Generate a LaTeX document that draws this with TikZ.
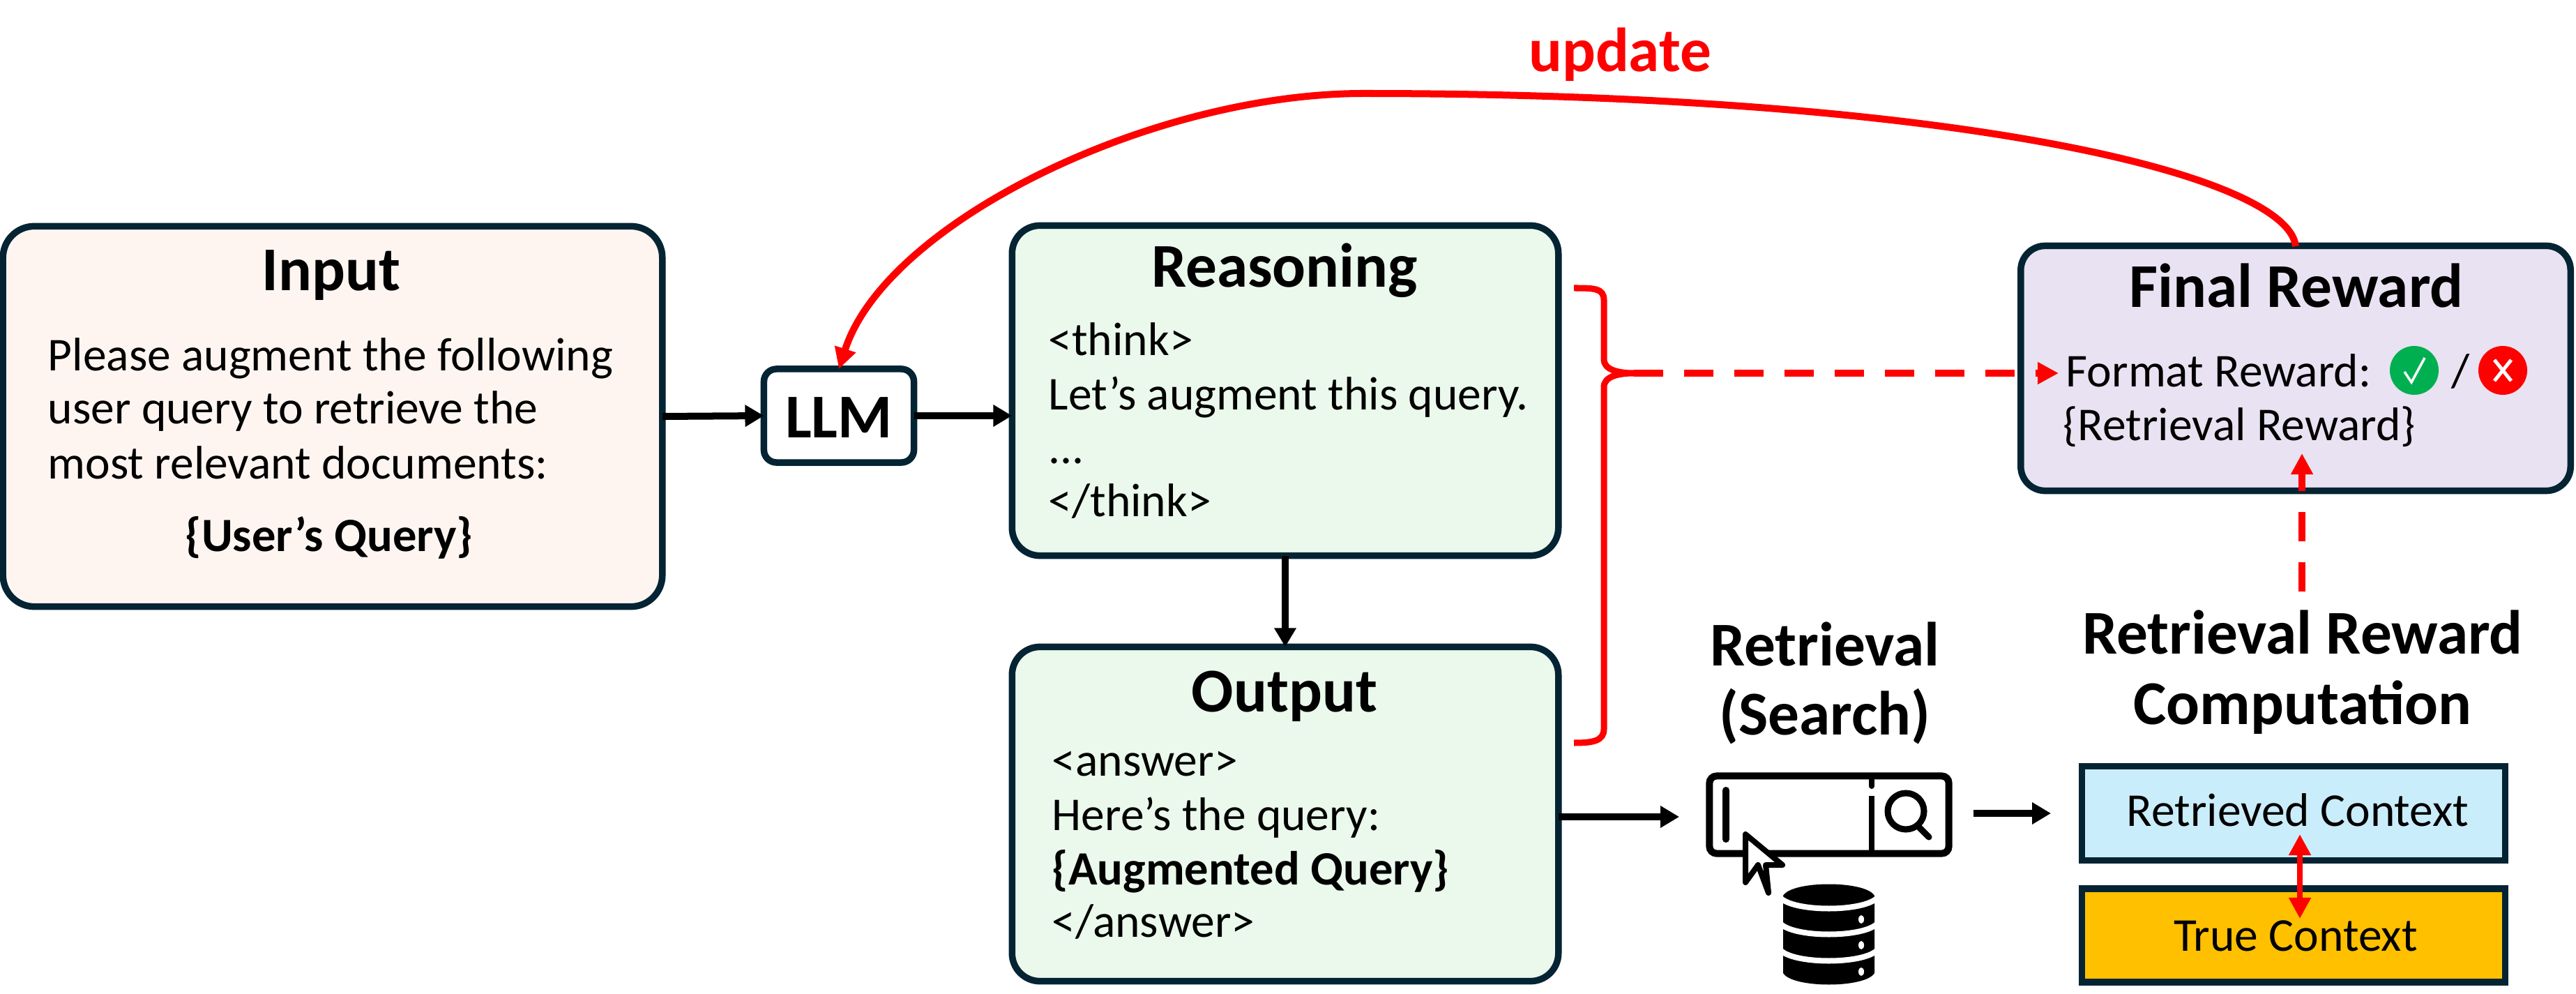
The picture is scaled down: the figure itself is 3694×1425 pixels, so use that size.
\documentclass[tikz,border=0pt]{standalone}
\usepackage{fontspec}
\setmainfont{Carlito}
\usepackage{xcolor}
\usepackage{tikz}
\usetikzlibrary{arrows.meta,calc,positioning}
\definecolor{boxline}{HTML}{042433}
\definecolor{inputfill}{HTML}{FEF5F1}
\definecolor{greenfill}{HTML}{EAF9EC}
\definecolor{rewardfill}{HTML}{E9E2F2}
\definecolor{retrfill}{HTML}{CAEDFB}
\definecolor{truefill}{HTML}{FFC000}
\definecolor{okgreen}{HTML}{00B050}
\tikzset{
  bx/.style={draw=boxline,line width=0.095cm,inner sep=0pt,outer sep=0pt},
  headtxt/.style={font=\fontsize{25.4}{27}\selectfont\bfseries,anchor=base,inner sep=0pt},
  bodytxt/.style={font=\fontsize{19.2}{21}\selectfont,anchor=base west,inner sep=0pt},
  midtxt/.style={font=\fontsize{19.2}{21}\selectfont,anchor=base,inner sep=0pt},
  boldtxt/.style={font=\fontsize{19.5}{21}\selectfont\bfseries,inner sep=0pt},
  blackarr/.style={line width=0.1cm,-{Triangle[length=0.27cm,width=0.3cm]}},
  redarr/.style={red,line width=0.1cm,-{Triangle[length=0.3cm,width=0.3cm]}},
  reddash/.style={redarr,dash pattern=on 0.42cm off 0.30cm},
  icon/.style={circle,minimum size=0.7cm,inner sep=0pt,outer sep=0pt},
}
\begin{document}
\begin{tikzpicture}[x=0.01cm,y=-0.01cm]
  \useasboundingbox (0,0) rectangle (3694,1425);
  \node[bx,fill=inputfill,rounded corners=0.45cm,minimum width=9.45cm,minimum height=5.45cm] (input) at (477,597) {};
  \node[bx,fill=white,rounded corners=0.18cm,minimum width=2.15cm,minimum height=1.34cm] (llm) at (1203,596) {};
  \node[bx,fill=greenfill,rounded corners=0.4cm,minimum width=7.83cm,minimum height=4.73cm] (reasoning) at (1843,560) {};
  \node[bx,fill=greenfill,rounded corners=0.4cm,minimum width=7.83cm,minimum height=4.79cm] (output) at (1843,1167) {};
  \node[bx,fill=rewardfill,rounded corners=0.35cm,minimum width=7.88cm,minimum height=3.51cm] (final) at (3292,528) {};
  \node[bx,fill=retrfill,minimum width=6.07cm,minimum height=1.35cm] (retrieved) at (3289,1166) {};
  \node[bx,fill=truefill,minimum width=6.07cm,minimum height=1.34cm] (truectx) at (3289,1341) {};

  \node[headtxt] (inputhead) at (475,417) {Input};
  \node[bodytxt] (inputa) at (68,532) {Please augment the following};
  \node[bodytxt] (inputb) at (68,608) {user query to retrieve the};
  \node[bodytxt] (inputc) at (68,686) {most relevant documents:};
  \node[boldtxt,anchor=base] (inputd) at (472,790) {\{User’s Query\}};
  \node[headtxt] (llmtxt) at (1203,628) {LLM};

  \node[headtxt] (reasonhead) at (1842,412) {Reasoning};
  \node[bodytxt] (reasona) at (1503,510) {<think>};
  \node[bodytxt] (reasonb) at (1503,588) {Let’s augment this query.};
  \node[bodytxt] (reasonc) at (1503,665) {...};
  \node[bodytxt] (reasond) at (1503,740) {</think>};

  \node[headtxt] (outhead) at (1842,1020) {Output};
  \node[bodytxt] (outa) at (1508,1112) {<answer>};
  \node[bodytxt] (outb) at (1508,1190) {Here’s the query:};
  \node[boldtxt,anchor=base west] (outc) at (1508,1268) {\{Augmented Query\}};
  \node[bodytxt] (outd) at (1508,1343) {</answer>};

  \node[headtxt] (finalhead) at (3293,441) {Final Reward};
  \node[bodytxt] (formatrw) at (2962,555) {Format Reward:};
  \node[icon,fill=okgreen] (okicon) at (3462,531) {};
  \node[midtxt] (slash) at (3528,555) {/};
  \node[icon,fill=red] (noicon) at (3589,531) {};
  \draw[white,line width=0.035cm] (3448,533) -- (3458,548) -- (3477,513);
  \draw[white,line width=0.05cm] (3577,516) -- (3601,546);
  \draw[white,line width=0.05cm] (3601,516) -- (3577,546);
  \node[bodytxt] (retrrw) at (2958,632) {\{Retrieval Reward\}};

  \node[headtxt] (retrhead) at (2617,954) {Retrieval};
  \node[headtxt] (searchhead) at (2617,1053) {(Search)};
  \node[headtxt] (rrhead) at (3302,937) {Retrieval Reward};
  \node[headtxt] (comphead) at (3302,1038) {Computation};
  \node[midtxt] (retrtxt) at (3295,1184) {Retrieved Context};
  \node[midtxt] (truetxt) at (3292,1363) {True Context};
  \node[headtxt,text=red] (updatetxt) at (2323,103) {update};

  % search bar
  \node[draw=black,fill=white,line width=0.1cm,rounded corners=0.1cm,inner sep=0pt,outer sep=0pt,minimum width=3.43cm,minimum height=1.11cm] (searchbar) at (2623,1168) {};
  \draw[line width=0.1cm,line cap=round] (2475,1133) -- (2475,1203);
  \draw[line width=0.08cm] (2684,1141) -- (2684,1224);
  \draw[line width=0.08cm,line cap=round] (2684,1118) -- (2684,1127);
  \draw[line width=0.09cm] (2733,1163) circle (26);
  \draw[line width=0.09cm,line cap=round] (2750,1184) -- (2766,1200);
  \draw[fill=white,line width=0.08cm,line join=round] (2503,1196) -- (2503,1265) -- (2521,1240) -- (2536,1280) -- (2532,1240) -- (2556,1240) -- cycle;
  \fill (2557,1284) -- (2557,1395) .. controls (2570,1417) and (2675,1417) .. (2688,1395) -- (2688,1284) .. controls (2675,1262) and (2570,1262) .. (2557,1284);
  \foreach \cy in {1286,1323,1361} {
    \draw[white,line width=0.08cm] (2552,\cy) .. controls (2570,\cy+22) and (2675,\cy+22) .. (2693,\cy);
  }
  \foreach \dy in {1318,1355,1393} {
    \fill[white] (2669,\dy) ellipse (4 and 6);
  }

  \draw[blackarr] (input.east) -- (llm.west);
  \draw[blackarr] (llm.east) -- (llm.east -| reasoning.west);
  \draw[blackarr] (reasoning.south) -- (output.north);
  \coordinate (searchin) at (2408,1171);
  \coordinate (searchout) at (2830,1166);
  \coordinate (ctxin) at (2941,1166);
  \draw[blackarr] (output.east |- searchin) -- (searchin);
  \draw[blackarr] (searchout) -- (ctxin);

  \coordinate (updatestart) at (3292,353);
  \coordinate (updatetop) at (1955,134);
  \draw[redarr] (updatestart) .. controls (3280,250) and (2800,134) .. (updatetop) .. controls (1650,134) and (1270,320) .. (llm.north);

  \coordinate (bracetip) at (2343,535);
  \draw[red,line width=0.09cm] (2257,413) .. controls (2285,413) and (2300,413) .. (2300,430) -- (2300,515) .. controls (2300,530) and (2320,535) .. (bracetip) .. controls (2320,535) and (2300,540) .. (2300,555) -- (2300,1045) .. controls (2300,1062) and (2285,1065) .. (2257,1065);
  \coordinate (formatin) at (2952,535);
  \draw[reddash] (bracetip) -- (formatin);
  \coordinate (rrtop) at (3301,848);
  \coordinate (rrin) at (3301,650);
  \draw[reddash] (rrtop) -- (rrin);
  \coordinate (ctxtop) at (3298,1196);
  \coordinate (ctxbot) at (3298,1317);
  \draw[red,line width=0.08cm,{Triangle[length=0.3cm,width=0.3cm]}-{Triangle[length=0.3cm,width=0.3cm]}] (ctxtop) -- (ctxbot);
\end{tikzpicture}
\end{document}
